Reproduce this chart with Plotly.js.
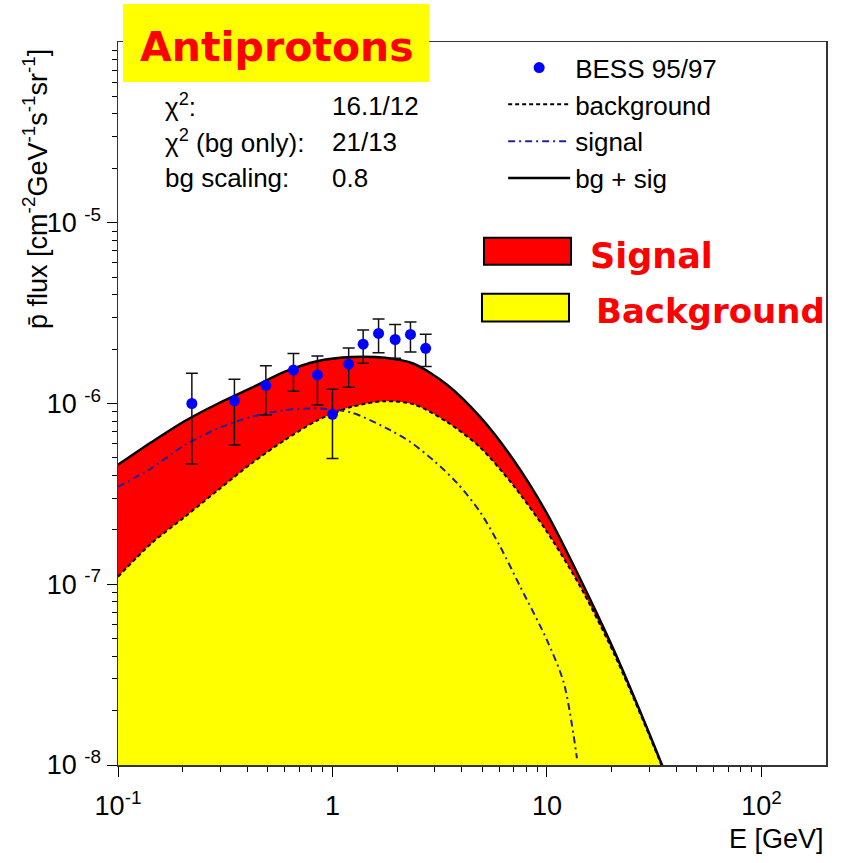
<!DOCTYPE html>
<html>
<head>
<meta charset="utf-8">
<script src="https://cdn.plot.ly/plotly-3.0.1.min.js"></script>
<style>
  html, body { margin: 0; padding: 0; background: #ffffff; }
  #chart { width: 844px; height: 863px; }
</style>
</head>
<body>
<div id="chart"></div>
<script>
// BESS 95/97 antiproton measurements (E in GeV, flux in cm^-2 GeV^-1 s^-1 sr^-1)
const bessE    = [0.221, 0.349, 0.489, 0.658, 0.851, 1.00, 1.19, 1.39, 1.64, 1.96, 2.31, 2.72];
const bessFlux = [1.00e-6, 1.035e-6, 1.26e-6, 1.53e-6, 1.44e-6, 8.71e-7, 1.65e-6, 2.13e-6, 2.44e-6, 2.26e-6, 2.41e-6, 2.02e-6];
const bessHigh = [1.47e-6, 1.36e-6, 1.62e-6, 1.89e-6, 1.83e-6, 1.20e-6, 2.03e-6, 2.55e-6, 2.93e-6, 2.74e-6, 2.82e-6, 2.42e-6];
const bessLow  = [4.62e-7, 5.89e-7, 8.63e-7, 1.17e-6, 9.80e-7, 4.97e-7, 1.23e-6, 1.67e-6, 1.91e-6, 1.78e-6, 1.93e-6, 1.60e-6];

// Model curves: secondary background and background + signal
const modelE    = [0.1, 0.143, 0.205, 0.293, 0.419, 0.6, 0.857, 1.23, 1.76, 2.39, 3.42, 4.89, 7.0, 10, 14.3, 20.5, 29.3, 34.4, 40];
const bgFlux    = [1.10e-7, 1.68e-7, 2.36e-7, 3.32e-7, 4.66e-7, 6.28e-7, 8.10e-7, 9.59e-7, 1.03e-6, 9.9e-7, 7.9e-7, 5.7e-7, 3.5e-7, 1.95e-7, 9.7e-8, 4.15e-8, 1.56e-8, 9.8e-9, 6.4e-9];
const totalFlux = [4.58e-7, 6.1e-7, 8.0e-7, 1.0e-6, 1.22e-6, 1.50e-6, 1.72e-6, 1.81e-6, 1.79e-6, 1.66e-6, 1.27e-6, 8.4e-7, 4.85e-7, 2.46e-7, 1.07e-7, 4.33e-8, 1.60e-8, 1.0e-8, 6.55e-9];

// Signal component
const signalE    = [0.1, 0.143, 0.205, 0.293, 0.419, 0.6, 0.857, 1.23, 1.86, 2.30, 2.95, 3.82, 4.89, 6.06, 7.52, 10, 12, 13.8];
const signalFlux = [3.46e-7, 4.38e-7, 5.89e-7, 7.28e-7, 8.44e-7, 9.19e-7, 9.39e-7, 8.9e-7, 7.12e-7, 6.14e-7, 4.86e-7, 3.62e-7, 2.5e-7, 1.61e-7, 9.66e-8, 4.91e-8, 2.83e-8, 1.09e-8];

// Axis ticks
const xTickVals = [0.1, 1, 10, 100];
const xTickText = ['10<sup>-1</sup>', '1', '10', '10<sup>2</sup>'];
const yTickVals = [1e-8, 1e-7, 1e-6, 1e-5];
const yTickText = ['10 <sup>-8</sup>', '10 <sup>-7</sup>', '10 <sup>-6</sup>', '10 <sup>-5</sup>'];

// Fit summary
const statLabels = ['χ<sup>2</sup>:', 'χ<sup>2</sup> (bg only):', 'bg scaling:'];
const statValues = ['16.1/12', '21/13', '0.8'];

const FONT = 'Arial, "Liberation Sans", sans-serif';
const FUN_FONT = '"Comic Sans MS", "DejaVu Sans", sans-serif';

function minorTicks(fromExp, toExp, maxVal) {
  const out = [];
  for (let e = fromExp; e < toExp; e++) {
    for (let m = 2; m <= 9; m++) {
      const v = m * Math.pow(10, e);
      if (v < maxVal) out.push(v);
    }
  }
  return out;
}

const errPlus  = bessFlux.map((v, i) => bessHigh[i] - v);
const errMinus = bessFlux.map((v, i) => v - bessLow[i]);

const traces = [
  { // yellow background area
    x: modelE, y: bgFlux, type: 'scatter', mode: 'lines',
    line: { width: 0, shape: 'spline', smoothing: 0.8 },
    fill: 'tozeroy', fillcolor: '#ffff00', showlegend: false, hoverinfo: 'skip'
  },
  { // red signal band between background and total
    x: modelE, y: totalFlux, type: 'scatter', mode: 'lines',
    line: { width: 0, shape: 'spline', smoothing: 0.8 },
    fill: 'tonexty', fillcolor: '#ff0000', showlegend: false, hoverinfo: 'skip'
  },
  {
    name: 'background', x: modelE, y: bgFlux, type: 'scatter', mode: 'lines',
    line: { color: '#000000', width: 2, dash: '4px,3px', shape: 'spline', smoothing: 0.8 },
    legendrank: 2
  },
  {
    name: 'signal', x: signalE, y: signalFlux, type: 'scatter', mode: 'lines',
    line: { color: '#22229a', width: 2, dash: '7px,4px,2px,4px', shape: 'spline', smoothing: 0.8 },
    legendrank: 3
  },
  {
    name: 'bg + sig', x: modelE, y: totalFlux, type: 'scatter', mode: 'lines',
    line: { color: '#000000', width: 2.5, shape: 'spline', smoothing: 0.8 },
    legendrank: 4
  },
  {
    name: 'BESS 95/97', x: bessE, y: bessFlux, type: 'scatter', mode: 'markers',
    marker: { color: '#0000ff', size: 11 },
    error_y: { type: 'data', symmetric: false, array: errPlus, arrayminus: errMinus,
               color: '#111111', thickness: 1.5, width: 6 },
    legendrank: 1
  }
];

const annotations = [
  { // y axis title
    xref: 'paper', yref: 'paper', x: -0.117, y: 0.797, xanchor: 'center', yanchor: 'middle',
    textangle: -90, showarrow: false,
    text: 'p̄ flux [cm<sup>-2</sup>GeV<sup>-1</sup>s<sup>-1</sup>sr<sup>-1</sup>]',
    font: { family: FONT, size: 27, color: '#000' }
  },
  { // x axis title
    xref: 'paper', yref: 'paper', x: 1.0, y: -0.102, xanchor: 'right', yanchor: 'middle',
    showarrow: false, text: 'E [GeV]', font: { family: FONT, size: 27, color: '#000' }
  },
  { // headline
    xref: 'paper', yref: 'paper', x: 0.2239, y: 0.993, xanchor: 'center', yanchor: 'middle',
    showarrow: false, text: '<b>Antiprotons</b>', font: { family: FUN_FONT, size: 41, color: '#ff0000' }
  },
  {
    xref: 'paper', yref: 'paper', x: 0.6638, y: 0.7044, xanchor: 'left', yanchor: 'middle',
    showarrow: false, text: '<b>Signal</b>', font: { family: FUN_FONT, size: 35, color: '#ff0000' }
  },
  {
    xref: 'paper', yref: 'paper', x: 0.6723, y: 0.6285, xanchor: 'left', yanchor: 'middle',
    showarrow: false, text: '<b>Background</b>', font: { family: FUN_FONT, size: 34, color: '#ff0000' }
  }
];

const statRowsY = [0.9116, 0.8619, 0.8122];
statLabels.forEach((t, i) => {
  annotations.push({
    xref: 'paper', yref: 'paper', x: 0.0636, y: statRowsY[i], xanchor: 'left', yanchor: 'middle',
    showarrow: false, text: t, font: { family: FONT, size: 26, color: '#000' }
  });
  annotations.push({
    xref: 'paper', yref: 'paper', x: 0.2994, y: statRowsY[i], xanchor: 'left', yanchor: 'middle',
    showarrow: false, text: statValues[i], font: { family: FONT, size: 26, color: '#000' }
  });
});

const shapes = [
  { type: 'rect', xref: 'paper', yref: 'paper', x0: 0.00706, x1: 0.4393, y0: 0.9448, y1: 1.0525,
    fillcolor: '#ffff00', line: { width: 0 }, layer: 'above' },
  { type: 'rect', xref: 'paper', yref: 'paper', x0: 0.5169, x1: 0.6398, y0: 0.692, y1: 0.7293,
    fillcolor: '#ff0000', line: { color: '#000', width: 2 }, layer: 'above' },
  { type: 'rect', xref: 'paper', yref: 'paper', x0: 0.5141, x1: 0.6370, y0: 0.6133, y1: 0.6519,
    fillcolor: '#ffff00', line: { color: '#000', width: 2 }, layer: 'above' }
];

const axisCommon = {
  type: 'log', showgrid: false, zeroline: false,
  showline: true, linecolor: '#333333', linewidth: 1.5, mirror: true,
  ticks: 'outside', ticklen: 10, tickwidth: 1, tickcolor: '#000',
  tickmode: 'array', tickfont: { family: FONT, size: 27, color: '#000' }
};

const layout = {
  width: 844, height: 863,
  margin: { l: 118, r: 18, t: 42, b: 98 },
  paper_bgcolor: '#ffffff', plot_bgcolor: '#ffffff',
  font: { family: FONT, color: '#000' },
  xaxis: Object.assign({}, axisCommon, {
    range: [-1, Math.log10(200)], tickvals: xTickVals, ticktext: xTickText, ticklabelstandoff: 6,
    minor: { tickmode: 'array', tickvals: minorTicks(-1, 3, 199), ticks: 'outside', ticklen: 5,
             tickwidth: 1, tickcolor: '#000', showgrid: false }
  }),
  yaxis: Object.assign({}, axisCommon, {
    range: [-8, -4], tickvals: yTickVals, ticktext: yTickText,
    minor: { tickmode: 'array', tickvals: minorTicks(-8, -4, 1), ticks: 'outside', ticklen: 5,
             tickwidth: 1, tickcolor: '#000', showgrid: false }
  }),
  showlegend: true,
  legend: {
    x: 0.544, y: 0.997, xanchor: 'left', yanchor: 'top', traceorder: 'normal',
    bgcolor: 'rgba(0,0,0,0)', borderwidth: 0, itemwidth: 62,
    font: { family: FONT, size: 26, color: '#000' }
  },
  annotations: annotations,
  shapes: shapes
};

Plotly.newPlot('chart', traces, layout, { displayModeBar: false, staticPlot: true });
</script>
</body>
</html>
